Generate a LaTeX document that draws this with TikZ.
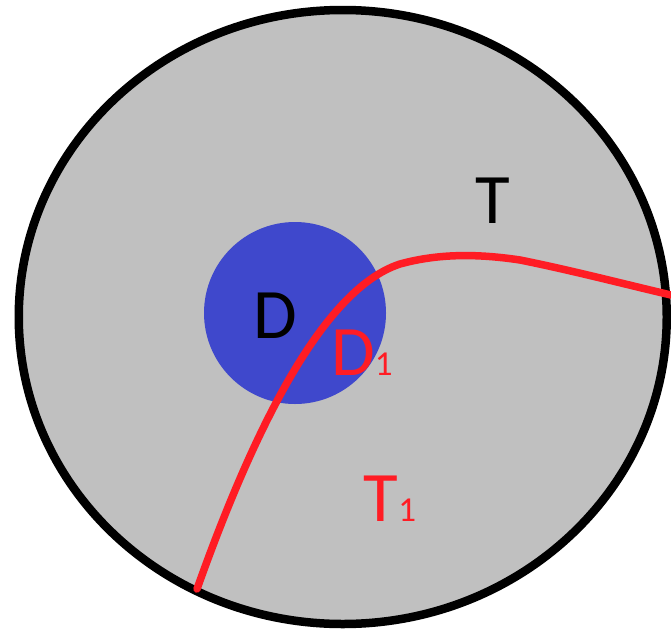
\documentclass[tikz,border=0pt]{standalone}
\usepackage{fontspec}
\setmainfont{Carlito}
\definecolor{fillgray}{RGB}{192,192,192}
\definecolor{dblue}{RGB}{63,72,204}
\definecolor{cred}{RGB}{255,28,36}
\tikzset{
  lbl/.style={anchor=base, inner sep=0pt, font=\fontsize{71}{80}\selectfont},
}
\newcommand{\subone}{{\fontsize{35}{40}\selectfont 1}}
\begin{document}
\begin{tikzpicture}[x=1pt,y=-1pt]
\useasboundingbox (0,0) rectangle (671,629);
\draw[line width=8.5pt, fill=fillgray] (342.75,317) ellipse [x radius=324, y radius=307];
\fill[dblue] (295,313) circle [radius=91];
\coordinate (s) at (197,589);
\coordinate (m1) at (400,264);
\coordinate (m2) at (520,260);
\coordinate (e) at (671,295);
\draw[cred, line width=7.5pt, line cap=round]
  (s) .. controls (250,440) and (320,290) .. (m1)
      .. controls (440,253) and (480,254) .. (m2)
      .. controls (570,270) and (620,283) .. (e);
\node[lbl] (D) at (275,338) {D};
\node[lbl, text=cred] (D1) at (362,375) {D\subone};
\node[lbl] (T) at (493,223) {T};
\node[lbl, text=cred] (T1) at (390,521) {T\subone};
\end{tikzpicture}
\end{document}
